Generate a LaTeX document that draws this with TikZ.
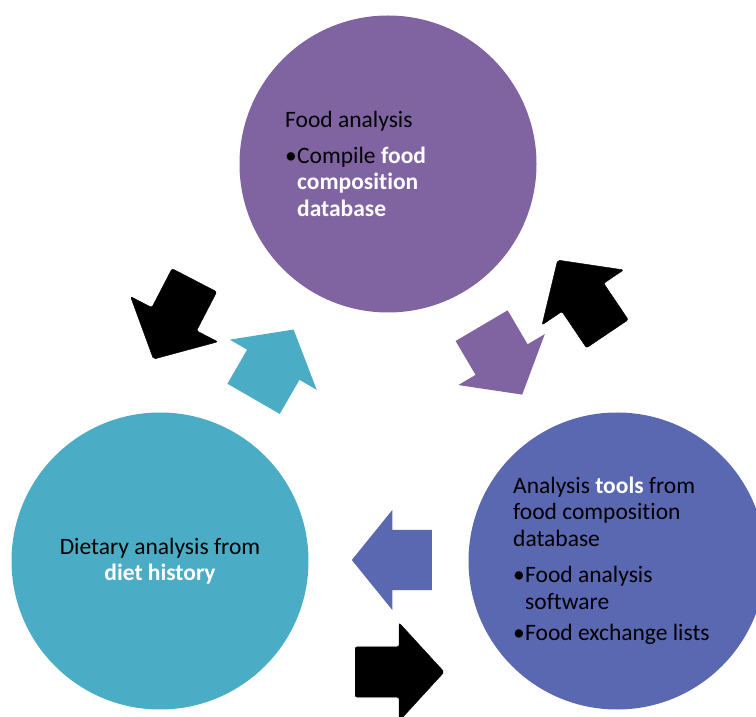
\documentclass[tikz,border=0pt]{standalone}
\usepackage{fontspec}
\setmainfont{Carlito}[Ligatures=NoCommon]
\usepackage{xcolor}
\usepackage{tikz}
\usetikzlibrary{shapes.arrows}

\definecolor{foodpurple}{HTML}{8064A2}
\definecolor{dietcyan}{HTML}{4BACC6}
\definecolor{toolblue}{HTML}{5A67B1}
\newcommand{\wtext}[1]{\textbf{\color{white}#1}}
\newcommand{\bul}{\makebox[12pt][l]{\textbullet}}

\begin{document}
\begin{tikzpicture}[x=1pt, y=1pt, every node/.style={font=\fontsize{23.5}{26.5}\selectfont},
    blob/.style={circle, minimum size=297pt, inner sep=0pt},
    colarrow/.style={single arrow, anchor=tail, minimum height=80pt, inner xsep=0pt, inner ysep=30pt, single arrow head extend=20pt, single arrow tip angle=102},
    blkarrow/.style={single arrow, anchor=tail, fill=black, draw=black, rounded corners=2pt, minimum height=89pt, inner xsep=0pt, inner ysep=25pt, single arrow head extend=24pt, single arrow tip angle=95}]
        \useasboundingbox (0,0) rectangle (756,716);

        % the three circles
        \node (food) [blob, fill=foodpurple] at (388,552) {};
        \node (diet) [blob, fill=dietcyan] at (160,155) {};
        \node (tools) [blob, fill=toolblue] at (617,155) {};

        \node (foodtxt) [anchor=west, align=left, inner sep=0pt] at (285,552) {Food analysis\\[9pt]\bul Compile \wtext{food}\\\hspace*{12pt}\wtext{composition}\\\hspace*{12pt}\wtext{database}};
        \node (diettxt) [align=center, inner sep=0pt] at (diet) {Dietary analysis from\\\wtext{diet history}};
        \node (toolstxt) [anchor=west, align=left, inner sep=0pt] at (513,155) {Analysis \wtext{tools} from\\food composition\\database\\[10pt]\bul Food analysis\\\hspace*{12pt}software\\[5pt]\bul Food exchange lists};

        % arrows between the circles
        \node (dietup) [colarrow, fill=dietcyan, rotate=60] at (253.5,317) {};
        \node (fooddown) [colarrow, fill=foodpurple, rotate=-59.5] at (481.5,390.5) {};
        \node (toolsleft) [colarrow, fill=toolblue, rotate=180] at (432,156) {};
        \node (backleft) [blkarrow, rotate=-117.4] at (194.5,436) {};
        \node (backright) [blkarrow, rotate=124] at (607.5,382) {};
        \node (backbottom) [blkarrow, rotate=0] at (355,44) {};
    \end{tikzpicture}
\end{document}
